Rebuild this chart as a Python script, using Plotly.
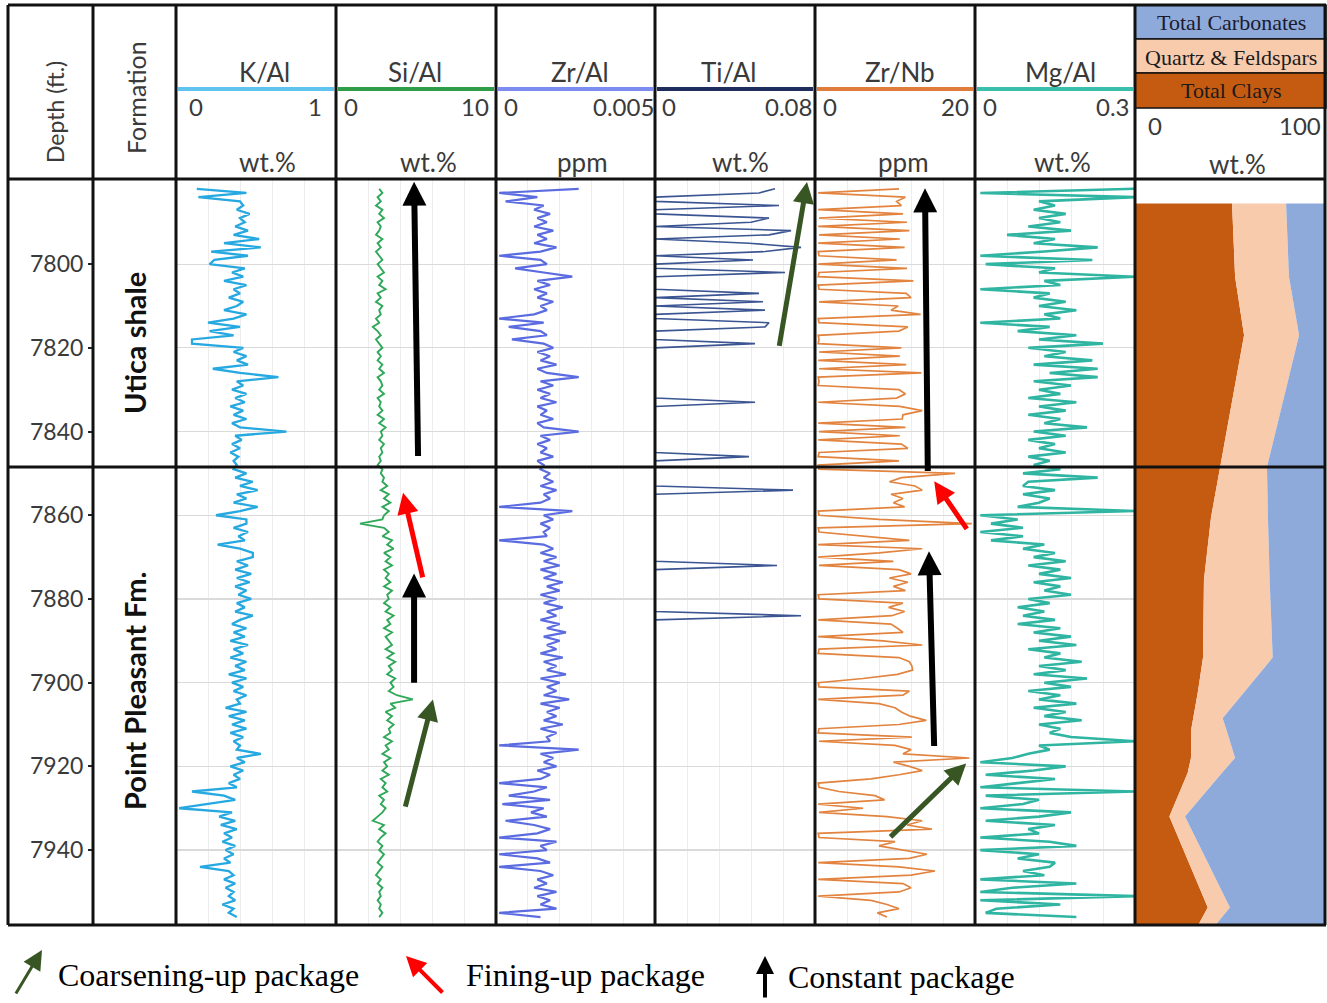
import plotly.graph_objects as go

W, H = 1327, 1003

# ---------------- data ----------------
DEPTH_FT = [
    7782, 7783, 7784, 7785, 7786, 7787, 7788, 7789, 7790, 7791,
    7792, 7793, 7794, 7795, 7796, 7797, 7798, 7799, 7800, 7801,
    7802, 7803, 7804, 7805, 7806, 7807, 7808, 7809, 7810, 7811,
    7812, 7813, 7814, 7815, 7816, 7817, 7818, 7819, 7820, 7821,
    7822, 7823, 7824, 7825, 7826, 7827, 7828, 7829, 7830, 7831,
    7832, 7833, 7834, 7835, 7836, 7837, 7838, 7839, 7840, 7841,
    7842, 7843, 7844, 7845, 7846, 7847, 7848, 7849, 7850, 7851,
    7852, 7853, 7854, 7855, 7856, 7857, 7858, 7859, 7860, 7861,
    7862, 7863, 7864, 7865, 7866, 7867, 7868, 7869, 7870, 7871,
    7872, 7873, 7874, 7875, 7876, 7877, 7878, 7879, 7880, 7881,
    7882, 7883, 7884, 7885, 7886, 7887, 7888, 7889, 7890, 7891,
    7892, 7893, 7894, 7895, 7896, 7897, 7898, 7899, 7900, 7901,
    7902, 7903, 7904, 7905, 7906, 7907, 7908, 7909, 7910, 7911,
    7912, 7913, 7914, 7915, 7916, 7917, 7918, 7919, 7920, 7921,
    7922, 7923, 7924, 7925, 7926, 7927, 7928, 7929, 7930, 7931,
    7932, 7933, 7934, 7935, 7936, 7937, 7938, 7939, 7940, 7941,
    7942, 7943, 7944, 7945, 7946, 7947, 7948, 7949, 7950, 7951,
    7952, 7953, 7954, 7955, 7956,
]

K_AL = [
    0.13, 0.44, 0.14, 0.40, 0.42, 0.38, 0.46, 0.40, 0.43, 0.37,
    0.45, 0.36, 0.52, 0.30, 0.53, 0.22, 0.45, 0.24, 0.21, 0.43,
    0.35, 0.42, 0.30, 0.44, 0.36, 0.40, 0.33, 0.42, 0.38, 0.30,
    0.44, 0.36, 0.20, 0.40, 0.21, 0.36, 0.10, 0.10, 0.42, 0.36,
    0.44, 0.38, 0.45, 0.23, 0.40, 0.64, 0.38, 0.42, 0.35, 0.44,
    0.37, 0.43, 0.34, 0.42, 0.36, 0.44, 0.35, 0.40, 0.69, 0.37,
    0.41, 0.35, 0.40, 0.34, 0.39, 0.36, 0.38, 0.36, 0.44, 0.37,
    0.48, 0.40, 0.51, 0.38, 0.44, 0.36, 0.51, 0.40, 0.25, 0.44,
    0.44, 0.36, 0.45, 0.39, 0.43, 0.26, 0.40, 0.48, 0.48, 0.38,
    0.45, 0.37, 0.47, 0.38, 0.46, 0.37, 0.44, 0.39, 0.47, 0.38,
    0.43, 0.37, 0.48, 0.40, 0.35, 0.44, 0.36, 0.43, 0.34, 0.45,
    0.36, 0.42, 0.34, 0.44, 0.37, 0.43, 0.33, 0.44, 0.35, 0.42,
    0.36, 0.44, 0.38, 0.40, 0.31, 0.44, 0.33, 0.43, 0.35, 0.44,
    0.34, 0.42, 0.36, 0.40, 0.38, 0.53, 0.38, 0.43, 0.34, 0.42,
    0.36, 0.40, 0.33, 0.38, 0.10, 0.30, 0.37, 0.20, 0.02, 0.35,
    0.27, 0.37, 0.28, 0.38, 0.30, 0.35, 0.29, 0.37, 0.31, 0.36,
    0.30, 0.34, 0.15, 0.33, 0.36, 0.30, 0.37, 0.31, 0.36, 0.33,
    0.37, 0.29, 0.36, 0.33, 0.38,
]

SI_AL = [
    2.7, 2.9, 2.6, 2.8, 2.5, 2.9, 2.7, 3.0, 2.6, 2.8,
    2.7, 2.5, 2.9, 2.6, 2.8, 2.5, 2.7, 2.9, 2.6, 2.8,
    3.0, 2.6, 2.9, 2.7, 3.1, 2.6, 2.8, 2.5, 2.9, 2.7,
    2.8, 2.5, 2.7, 2.3, 2.6, 2.8, 2.5, 2.7, 2.9, 2.6,
    2.8, 2.6, 2.9, 2.7, 3.0, 2.6, 2.8, 2.9, 2.7, 3.0,
    2.6, 2.8, 2.7, 2.9, 2.6, 3.0, 2.7, 3.1, 2.8, 2.9,
    2.7, 3.0, 2.8, 2.9, 2.7, 2.8, 2.6, 2.9, 2.8, 3.0,
    2.9, 3.2, 2.8, 3.3, 3.0, 3.4, 2.9, 3.3, 3.0, 2.9,
    1.5, 3.0, 3.3, 2.9, 3.5, 3.2, 3.6, 3.0, 3.4, 3.1,
    3.5, 3.0, 3.3, 3.1, 3.4, 3.0, 3.5, 3.2, 3.3, 3.0,
    3.4, 3.1, 3.6, 3.2, 3.4, 3.0, 3.5, 3.1, 3.3, 3.5,
    3.1, 3.6, 3.2, 3.7, 3.3, 3.5, 3.2, 3.7, 3.4, 3.6,
    3.3, 3.8, 4.8, 3.4, 3.7, 3.1, 3.5, 3.2, 3.6, 3.3,
    3.4, 3.0, 3.5, 3.1, 3.3, 2.9, 3.4, 3.0, 3.2, 2.9,
    3.3, 2.8, 3.1, 2.9, 3.2, 2.7, 3.0, 2.8, 3.1, 2.9,
    2.6, 2.3, 3.0, 2.7, 3.1, 2.8, 2.6, 2.9, 2.7, 3.0,
    2.8, 2.6, 2.9, 2.7, 2.5, 2.8, 2.6, 2.9, 2.7, 2.8,
    2.6, 2.8, 2.7, 2.9, 2.7,
]

ZR_AL = [
    0.0026, 0.0001, 0.0013, 0.0003, 0.0015, 0.0012, 0.0017, 0.0013, 0.0016, 0.0012,
    0.0018, 0.0013, 0.0016, 0.0012, 0.0019, 0.0014, 0.0001, 0.0014, 0.0016, 0.0006,
    0.0015, 0.0024, 0.0013, 0.0017, 0.0012, 0.0016, 0.0013, 0.0018, 0.0014, 0.0016,
    0.0012, 0.0001, 0.0015, 0.0004, 0.0014, 0.0016, 0.0005, 0.0015, 0.0018, 0.0013,
    0.0017, 0.0014, 0.0019, 0.0013, 0.0016, 0.0026, 0.0014, 0.0018, 0.0013, 0.0017,
    0.0014, 0.0019, 0.0013, 0.0016, 0.0014, 0.0018, 0.0013, 0.0015, 0.0026, 0.0014,
    0.0017, 0.0013, 0.0016, 0.0014, 0.0018, 0.0013, 0.0015, 0.0014, 0.0017, 0.0015,
    0.0018, 0.0014, 0.0019, 0.0015, 0.0017, 0.0014, 0.0001, 0.0024, 0.0015, 0.0018,
    0.0014, 0.0017, 0.0015, 0.0016, 0.0001, 0.0015, 0.0018, 0.0014, 0.0019, 0.0015,
    0.0020, 0.0014, 0.0019, 0.0015, 0.0021, 0.0016, 0.0020, 0.0014, 0.0019, 0.0015,
    0.0021, 0.0016, 0.0019, 0.0014, 0.0020, 0.0016, 0.0022, 0.0015, 0.0020, 0.0016,
    0.0019, 0.0014, 0.0021, 0.0015, 0.0019, 0.0016, 0.0022, 0.0014, 0.0020, 0.0016,
    0.0019, 0.0015, 0.0023, 0.0014, 0.0020, 0.0016, 0.0019, 0.0015, 0.0021, 0.0014,
    0.0019, 0.0016, 0.0017, 0.0001, 0.0026, 0.0014, 0.0018, 0.0015, 0.0019, 0.0013,
    0.0017, 0.0014, 0.0001, 0.0016, 0.0012, 0.0004, 0.0017, 0.0002, 0.0015, 0.0011,
    0.0016, 0.0003, 0.0012, 0.0017, 0.0013, 0.0001, 0.0019, 0.0014, 0.0016, 0.0001,
    0.0013, 0.0017, 0.0001, 0.0014, 0.0018, 0.0013, 0.0016, 0.0012, 0.0019, 0.0013,
    0.0017, 0.0014, 0.0019, 0.0001, 0.0014,
]

TI_AL = [
    0.060, 0.052, 0, 0, 0.062, 0, 0, 0.057, 0.048, 0,
    0.068, 0.057, 0, 0.047, 0.073, 0.055, 0, 0.049, 0, 0,
    0.065, 0, 0, 0, 0, 0.052, 0, 0.054, 0, 0.055,
    0, 0, 0.057, 0.055, 0, 0, 0, 0.050, 0, 0,
    0, 0, 0, 0, 0, 0, 0, 0, 0, 0,
    0, 0.050, 0, 0, 0, 0, 0, 0, 0, 0,
    0, 0, 0, 0, 0.047, 0, 0, 0, 0, 0,
    0, 0, 0.069, 0, 0, 0, 0, 0, 0, 0,
    0, 0, 0, 0, 0, 0, 0, 0, 0, 0,
    0.061, 0, 0, 0, 0, 0, 0, 0, 0, 0,
    0, 0, 0.073, 0, 0, 0, 0, 0, 0, 0,
    0, 0, 0, 0, 0, 0, 0, 0, 0, 0,
    0, 0, 0, 0, 0, 0, 0, 0, 0, 0,
    0, 0, 0, 0, 0, 0, 0, 0, 0, 0,
    0, 0, 0, 0, 0, 0, 0, 0, 0, 0,
    0, 0, 0, 0, 0, 0, 0, 0, 0, 0,
    0, 0, 0, 0, 0, 0, 0, 0, 0, 0,
    0, 0, 0, 0, 0,
]

ZR_NB = [
    10.5, 0.4, 11.3, 10.2, 10.8, 0.4, 11.0, 0.5, 11.5, 0.4,
    11.8, 0.5, 10.6, 0.4, 11.2, 0.4, 0.5, 10.2, 0.4, 11.5,
    0.5, 0.4, 12.3, 0.4, 0.5, 11.4, 12.0, 0.5, 10.4, 9.5,
    13.2, 0.4, 0.5, 11.6, 10.5, 0.4, 0.5, 0.4, 10.8, 0.5,
    10.6, 0.4, 11.4, 0.5, 13.3, 0.4, 0.5, 0.4, 10.5, 11.3,
    10.2, 0.4, 10.6, 13.4, 11.0, 10.9, 0.4, 11.3, 0.5, 10.6,
    0.4, 10.8, 11.6, 0.5, 0.4, 10.5, 0.4, 0.5, 17.5, 10.8,
    9.3, 12.5, 13.4, 9.5, 11.0, 9.8, 11.2, 0.4, 0.5, 8.0,
    19.6, 0.4, 0.5, 6.0, 11.8, 0.4, 13.4, 8.0, 0.4, 9.8,
    0.5, 10.5, 12.0, 9.3, 11.6, 9.8, 11.3, 0.4, 0.5, 11.0,
    9.2, 11.2, 9.6, 0.4, 9.5, 10.3, 11.0, 0.4, 8.5, 13.4,
    0.5, 0.4, 10.5, 11.8, 12.1, 12.2, 10.3, 6.0, 0.4, 0.5,
    11.8, 11.0, 0.4, 8.0, 10.0, 10.8, 11.9, 13.9, 10.5, 0.5,
    0.4, 12.1, 0.5, 10.0, 12.0, 11.0, 19.3, 9.8, 11.8, 13.4,
    10.5, 7.0, 0.4, 0.5, 3.0, 7.5, 8.7, 0.4, 6.0, 0.5,
    9.0, 13.4, 11.5, 14.6, 0.4, 0.5, 10.0, 8.0, 11.0, 14.0,
    11.8, 0.4, 10.5, 15.0, 12.0, 0.4, 11.0, 12.0, 10.5, 0.4,
    7.0, 9.0, 10.5, 7.8, 9.0,
]

MG_AL = [
    0.30, 0.01, 0.30, 0.12, 0.15, 0.11, 0.17, 0.12, 0.16, 0.10,
    0.18, 0.06, 0.15, 0.11, 0.23, 0.13, 0.01, 0.22, 0.02, 0.15,
    0.12, 0.30, 0.13, 0.16, 0.01, 0.14, 0.11, 0.17, 0.12, 0.19,
    0.13, 0.16, 0.01, 0.14, 0.08, 0.19, 0.12, 0.24, 0.10, 0.17,
    0.13, 0.22, 0.11, 0.23, 0.14, 0.23, 0.11, 0.18, 0.12, 0.16,
    0.10, 0.19, 0.12, 0.17, 0.10, 0.16, 0.13, 0.21, 0.11, 0.17,
    0.10, 0.15, 0.12, 0.17, 0.10, 0.14, 0.11, 0.16, 0.09, 0.23,
    0.10, 0.09, 0.15, 0.09, 0.14, 0.12, 0.08, 0.30, 0.01, 0.08,
    0.03, 0.09, 0.01, 0.09, 0.03, 0.13, 0.09, 0.15, 0.11, 0.17,
    0.10, 0.16, 0.12, 0.18, 0.11, 0.16, 0.13, 0.18, 0.10, 0.14,
    0.08, 0.13, 0.09, 0.15, 0.08, 0.16, 0.11, 0.18, 0.12, 0.19,
    0.10, 0.16, 0.13, 0.20, 0.12, 0.17, 0.11, 0.21, 0.13, 0.18,
    0.10, 0.16, 0.12, 0.19, 0.11, 0.17, 0.13, 0.20, 0.12, 0.16,
    0.14, 0.18, 0.30, 0.12, 0.14, 0.10, 0.07, 0.01, 0.17, 0.11,
    0.02, 0.15, 0.08, 0.01, 0.30, 0.02, 0.12, 0.09, 0.01, 0.18,
    0.12, 0.02, 0.15, 0.10, 0.12, 0.01, 0.14, 0.19, 0.01, 0.12,
    0.08, 0.15, 0.14, 0.09, 0.13, 0.01, 0.19, 0.07, 0.01, 0.30,
    0.01, 0.16, 0.04, 0.02, 0.19,
]

# mineralogy (wt.%)
MIN_DEPTH = [7785.5, 7803.0, 7817.0, 7848.5, 7860.5, 7875.5, 7894.0, 7902.0,
             7908.5, 7911.0, 7918.0, 7921.5, 7932.0, 7953.7, 7958.0]
TOTAL_CLAYS = [50.8, 52.4, 57.1, 44.5, 39.8, 36.1, 35.6, 33.0,
               30.5, 29.5, 29.3, 27.6, 18.0, 38.1, 33.0]
QUARTZ_FELDSPARS = [28.3, 28.2, 28.8, 24.6, 29.8, 34.4, 36.5, 24.6,
                    15.4, 18.2, 23.1, 18.0, 8.2, 11.6, 9.0]
TOTAL_CARBONATES = [20.9, 19.4, 14.1, 30.9, 30.4, 29.5, 27.9, 42.4,
                    54.1, 52.3, 47.6, 54.4, 73.8, 50.3, 58.0]

DEPTH_TICKS = [7800, 7820, 7840, 7860, 7880, 7900, 7920, 7940]
FORMATIONS = ["Utica shale", "Point Pleasant Fm."]
FORMATION_TOP = 7848.5

# ---------------- layout helpers ----------------
def PX(x):
    return x / W


def PY(y):
    return 1 - y / H


TOP_PX, BOT_PX = 180, 925
Y_RANGE = [7957.9, 7779.9]
HEADER_FONT = "Lato, 'Open Sans', sans-serif"
SERIF = "'Liberation Serif', 'DejaVu Serif', serif"
TXT = "#3a3a3a"

tracks = [
    dict(ax="x", name="K/Al", unit="wt.%", vals=K_AL, xmax=1, maxlab="1",
         l=176, r=336, nx=264, ux=267, zx=187, mx=324,
         color="#26a8e0", head="#5ec4ee", lw=2.3),
    dict(ax="x2", name="Si/Al", unit="wt.%", vals=SI_AL, xmax=10, maxlab="10",
         l=336, r=496, nx=415, ux=428, zx=342, mx=491,
         color="#2fa85a", head="#2e9e48", lw=1.9),
    dict(ax="x3", name="Zr/Al", unit="ppm", vals=ZR_AL, xmax=0.005, maxlab="0.005",
         l=496, r=655, nx=580, ux=582, zx=502, mx=656,
         color="#5b6be0", head="#7b8cf0", lw=2.2),
    dict(ax="x4", name="Ti/Al", unit="wt.%", vals=TI_AL, xmax=0.08, maxlab="0.08",
         l=655, r=815, nx=729, ux=741, zx=660, mx=814,
         color="#3b5592", head="#1f2d5c", lw=1.6),
    dict(ax="x5", name="Zr/Nb", unit="ppm", vals=ZR_NB, xmax=20, maxlab="20",
         l=815, r=975, nx=900, ux=903, zx=821, mx=971,
         color="#e2843f", head="#e07b39", lw=1.7),
    dict(ax="x6", name="Mg/Al", unit="wt.%", vals=MG_AL, xmax=0.3, maxlab="0.3",
         l=975, r=1135, nx=1060, ux=1062, zx=981, mx=1132,
         color="#2fb5a2", head="#3bbfad", lw=2.6),
]

fig = go.Figure()

for t in tracks:
    fig.add_trace(go.Scatter(
        x=t["vals"], y=DEPTH_FT, xaxis=t["ax"], yaxis="y", mode="lines",
        line=dict(color=t["color"], width=t["lw"]), hoverinfo="skip",
        showlegend=False))

# mineralogy stacked fill
cum1 = TOTAL_CLAYS
cum2 = [a + b for a, b in zip(TOTAL_CLAYS, QUARTZ_FELDSPARS)]
cum3 = [a + b + c for a, b, c in zip(TOTAL_CLAYS, QUARTZ_FELDSPARS, TOTAL_CARBONATES)]
fig.add_trace(go.Scatter(x=cum1, y=MIN_DEPTH, xaxis="x7", yaxis="y", mode="lines",
                         line=dict(width=0, color="#c55a11"), fill="tozerox",
                         fillcolor="#c55a11", hoverinfo="skip", showlegend=False))
fig.add_trace(go.Scatter(x=cum2, y=MIN_DEPTH, xaxis="x7", yaxis="y", mode="lines",
                         line=dict(width=0, color="#f8cbad"), fill="tonextx",
                         fillcolor="#f8cbad", hoverinfo="skip", showlegend=False))
fig.add_trace(go.Scatter(x=cum3, y=MIN_DEPTH, xaxis="x7", yaxis="y", mode="lines",
                         line=dict(width=0, color="#8eaadb"), fill="tonextx",
                         fillcolor="#8eaadb", hoverinfo="skip", showlegend=False))

layout = dict(
    width=W, height=H, autosize=False,
    margin=dict(l=0, r=0, t=0, b=0, pad=0),
    paper_bgcolor="white", plot_bgcolor="white", showlegend=False,
    yaxis=dict(
        domain=[PY(BOT_PX), PY(TOP_PX)], range=Y_RANGE, anchor="free",
        position=PX(93), side="left", tickmode="array", tickvals=DEPTH_TICKS,
        ticks="outside", ticklen=5, tickwidth=2, tickcolor="#222",
        tickfont=dict(family=HEADER_FONT, size=23, color=TXT),
        showgrid=True, gridcolor="#dadada", gridwidth=1.2, zeroline=False,
        showline=False),
)
for t in tracks:
    key = "xaxis" + t["ax"][1:]
    layout[key] = dict(
        domain=[PX(t["l"]), PX(t["r"])], range=[0, t["xmax"]], anchor="y",
        showticklabels=False, ticks="", showgrid=True, gridcolor="#ededed",
        gridwidth=1, tick0=0, dtick=t["xmax"] / 5, zeroline=False, showline=False)
layout["xaxis7"] = dict(domain=[PX(1135), PX(1326)], range=[0, 100], anchor="y",
                        showticklabels=False, ticks="", showgrid=False,
                        zeroline=False, showline=False)
fig.update_layout(**layout)

# ---------------- shapes: table grid ----------------
shapes = []


def rect(x0, y0, x1, y1, fill, lw=1.5):
    shapes.append(dict(type="rect", xref="paper", yref="paper",
                       x0=PX(x0), x1=PX(x1), y0=PY(y1), y1=PY(y0),
                       fillcolor=fill, line=dict(color="#111", width=lw),
                       layer="above"))


def line(x0, y0, x1, y1, color="#111", w=3):
    shapes.append(dict(type="line", xref="paper", yref="paper",
                       x0=PX(x0), x1=PX(x1), y0=PY(y0), y1=PY(y1),
                       line=dict(color=color, width=w), layer="above"))


rect(1135, 5, 1326, 39, "#8eaadb")
rect(1135, 39, 1326, 73, "#f8cbad")
rect(1135, 73, 1326, 108, "#c55a11")

for t in tracks:
    line(t["l"] + 2, 89, t["r"] - 2, 89, color=t["head"], w=4)

for x in [8, 93, 176, 336, 496, 655, 815, 975, 1135, 1325]:
    line(x, 5, x, 925)
for y in [5, 179, 925]:
    line(8, y, 1326, y)
# formation boundary
shapes.append(dict(type="line", xref="paper", yref="y", x0=PX(8), x1=PX(1326),
                   y0=FORMATION_TOP, y1=FORMATION_TOP,
                   line=dict(color="#111", width=3), layer="above"))

fig.update_layout(shapes=shapes)

# ---------------- annotations ----------------
ann = []


def text(x, y, s, size=22, family=HEADER_FONT, xanchor="center", angle=0,
         color=TXT, bold=False):
    ann.append(dict(x=PX(x), y=PY(y), xref="paper", yref="paper",
                    text=("<b>%s</b>" % s) if bold else s, showarrow=False,
                    xanchor=xanchor, yanchor="middle", textangle=angle,
                    font=dict(family=family, size=size, color=color)))


text(55, 112, "Depth (ft.)", size=23, angle=-90)
text(136, 98, "Formation", size=25, angle=-90)
text(134, 343, FORMATIONS[0], size=29, angle=-90, bold=True, color="#111")
text(134, 691, FORMATIONS[1], size=29, angle=-90, bold=True, color="#111")

for t in tracks:
    text(t["nx"], 72, t["name"], size=26)
    text(t["zx"], 106, "0", size=24, xanchor="left")
    text(t["mx"], 106, t["maxlab"], size=24, xanchor="right")
    text(t["ux"], 162, t["unit"], size=26)

text(1231, 22, "Total Carbonates", size=22, family=SERIF, color="#1b1b2e")
text(1231, 57, "Quartz &amp; Feldspars", size=22, family=SERIF, color="#1b1b1b")
text(1231, 91, "Total Clays", size=22, family=SERIF, color="#1b1b1b")
text(1146, 126, "0", size=24, xanchor="left")
text(1323, 126, "100", size=24, xanchor="right")
text(1237, 164, "wt.%", size=26)

GREEN, RED, BLACK = "#375623", "#ff0000", "#000000"


def track_arrow(axis, tail, head, color, width, size):
    ann.append(dict(xref=axis, yref="y", axref=axis, ayref="y",
                    x=head[0], y=head[1], ax=tail[0], ay=tail[1], text="",
                    showarrow=True, arrowhead=2, arrowsize=size,
                    arrowwidth=width, arrowcolor=color, standoff=0))


# Si/Al arrows
track_arrow("x2", (5.13, 7846.2), (4.88, 7780.3), BLACK, 6, 0.8)
track_arrow("x2", (5.44, 7875.2), (4.19, 7854.6), RED, 5, 0.85)
track_arrow("x2", (4.88, 7900.4), (4.88, 7873.9), BLACK, 6, 0.8)
track_arrow("x2", (4.31, 7930.0), (6.06, 7904.0), GREEN, 5, 0.85)
# Ti/Al arrow
track_arrow("x4", (0.062, 7819.9), (0.076, 7780.4), GREEN, 5, 0.85)
# Zr/Nb arrows
track_arrow("x5", (14.1, 7849.8), (13.75, 7781.9), BLACK, 6, 0.8)
track_arrow("x5", (19.1, 7863.6), (14.9, 7851.9), RED, 5, 0.85)
track_arrow("x5", (14.9, 7915.5), (14.25, 7868.6), BLACK, 6, 0.8)
track_arrow("x5", (9.25, 7937.2), (18.9, 7919.3), GREEN, 5, 0.85)


def legend_arrow(tail, head, color, width, size):
    ann.append(dict(xref="paper", yref="paper", x=PX(head[0]), y=PY(head[1]),
                    ax=tail[0] - head[0], ay=tail[1] - head[1], text="",
                    showarrow=True, arrowhead=2, arrowsize=size,
                    arrowwidth=width, arrowcolor=color, standoff=0))


legend_arrow((15, 995), (42, 950), GREEN, 3, 1.3)
legend_arrow((444, 994), (406, 956), RED, 4, 1.0)
legend_arrow((765, 999), (765, 956), BLACK, 4, 0.9)
text(56, 975, "Coarsening-up package", size=32, family=SERIF, xanchor="left",
     color="#000")
text(464, 975, "Fining-up package", size=32, family=SERIF, xanchor="left",
     color="#000")
text(786, 977, "Constant package", size=32, family=SERIF, xanchor="left",
     color="#000")

fig.update_layout(annotations=ann)

fig.write_html(
    "out.html",
    config={"displayModeBar": False, "staticPlot": True},
    post_script="document.body.style.margin='0px';document.body.style.padding='0px';",
)
